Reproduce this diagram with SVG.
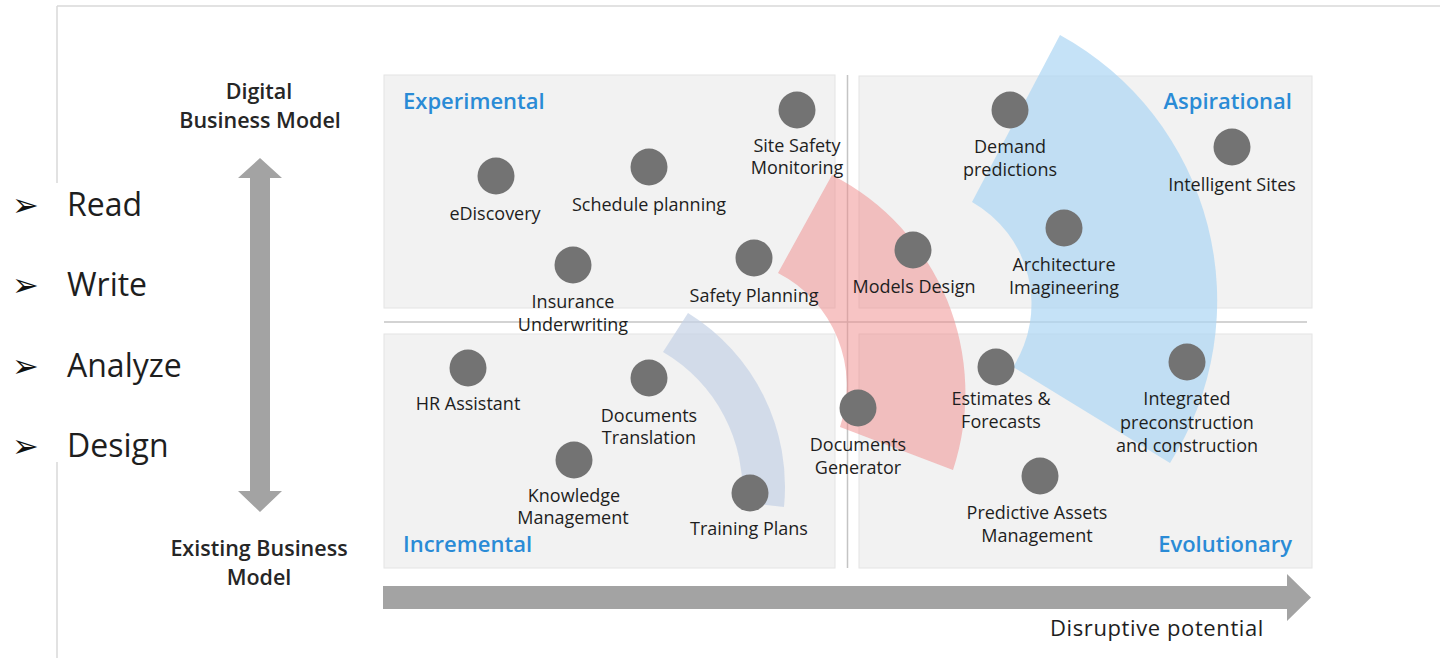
<svg xmlns="http://www.w3.org/2000/svg" width="1440" height="658" viewBox="0 0 1440 658">
<defs>
<style>
.quad{fill:#f2f2f2;stroke:#e4e4e4;stroke-width:1}
.div{stroke:#c4c4c4;stroke-width:1.5;fill:none}
.frame{stroke:#d9d9d9;stroke-width:1.5;fill:none}
.dot{fill:#737373}
.lbl{font-family:"Open Sans","Noto Sans","DejaVu Sans",sans-serif;font-size:18px;fill:#1e1e1e;text-anchor:middle}
.qt{font-family:"Open Sans","Noto Sans",sans-serif;font-size:22px;font-weight:600;fill:#2a8bd6}
.ax{font-family:"Open Sans","Noto Sans",sans-serif;font-size:21.5px;font-weight:600;fill:#262626;text-anchor:middle}
.bul{font-family:"Open Sans","Noto Sans",sans-serif;font-size:32px;fill:#1e1e1e}
.bsym{font-family:"DejaVu Sans",sans-serif;font-size:32px;fill:#111}
.arrow{fill:#a3a3a3}
</style>
</defs>
<rect width="1440" height="658" fill="#ffffff"/>
<g id="frame">
<line class="frame" x1="57" y1="6" x2="1440" y2="6"/>
<line class="frame" x1="57" y1="6" x2="57" y2="183"/>
<line class="frame" x1="57" y1="462" x2="57" y2="658"/>
</g>
<g id="quadrants">
<rect class="quad" x="384" y="75" width="451" height="233"/>
<rect class="quad" x="859" y="76" width="453" height="232"/>
<rect class="quad" x="384" y="334" width="451" height="234"/>
<rect class="quad" x="859" y="334" width="453" height="234"/>
<line class="div" x1="384" y1="322" x2="1307" y2="322"/>
<line class="div" x1="847.5" y1="75" x2="847.5" y2="568"/>
</g>
<g id="arcs">
<path d="M 663 352 L 688 313 A 204 204 0 0 1 784 507 L 742 502 A 160 160 0 0 0 663 352 Z" fill="#c4d2e6" fill-opacity="0.7"/>
<path d="M 778 273 L 832 175 A 245 245 0 0 1 953 470 L 840 427 A 127 127 0 0 0 778 273 Z" fill="#f08a8a" fill-opacity="0.5"/>
<path d="M 972 202 L 1060 35 A 303 303 0 0 1 1170 463 L 1013 367 A 117 117 0 0 0 972 202 Z" fill="#acd5f4" fill-opacity="0.7"/>
</g>
<g id="quadrant-titles">
<text class="qt" x="403" y="109">Experimental</text>
<text class="qt" x="1292" y="109" text-anchor="end">Aspirational</text>
<text class="qt" x="403" y="552">Incremental</text>
<text class="qt" x="1292" y="552" text-anchor="end">Evolutionary</text>
</g>
<g id="node-site-safety"><circle class="dot" cx="797" cy="110" r="18.5"/><text class="lbl" x="797" y="152">Site Safety</text><text class="lbl" x="797" y="174">Monitoring</text></g>
<g id="node-ediscovery"><circle class="dot" cx="496" cy="176" r="18.5"/><text class="lbl" x="495" y="220">eDiscovery</text></g>
<g id="node-schedule"><circle class="dot" cx="649" cy="167" r="18.5"/><text class="lbl" x="649" y="211">Schedule planning</text></g>
<g id="node-insurance"><circle class="dot" cx="573" cy="265" r="18.5"/><text class="lbl" x="573" y="308">Insurance</text><text class="lbl" x="573" y="331">Underwriting</text></g>
<g id="node-safety-planning"><circle class="dot" cx="754" cy="258" r="18.5"/><text class="lbl" x="754" y="302">Safety Planning</text></g>
<g id="node-demand"><circle class="dot" cx="1010" cy="110" r="18.5"/><text class="lbl" x="1010" y="153">Demand</text><text class="lbl" x="1010" y="176">predictions</text></g>
<g id="node-intelligent"><circle class="dot" cx="1232" cy="147" r="18.5"/><text class="lbl" x="1232" y="191">Intelligent Sites</text></g>
<g id="node-architecture"><circle class="dot" cx="1064" cy="228" r="18.5"/><text class="lbl" x="1064" y="271">Architecture</text><text class="lbl" x="1064" y="294">Imagineering</text></g>
<g id="node-models"><circle class="dot" cx="913" cy="250" r="18.5"/><text class="lbl" x="914" y="293">Models Design</text></g>
<g id="node-hr"><circle class="dot" cx="468" cy="368" r="18.5"/><text class="lbl" x="468" y="410">HR Assistant</text></g>
<g id="node-doc-translation"><circle class="dot" cx="649" cy="378" r="18.5"/><text class="lbl" x="649" y="422">Documents</text><text class="lbl" x="649" y="444">Translation</text></g>
<g id="node-knowledge"><circle class="dot" cx="574" cy="460" r="18.5"/><text class="lbl" x="574" y="502">Knowledge</text><text class="lbl" x="573" y="524">Management</text></g>
<g id="node-training"><circle class="dot" cx="750" cy="493" r="18.5"/><text class="lbl" x="749" y="535">Training Plans</text></g>
<g id="node-doc-generator"><circle class="dot" cx="858" cy="408" r="18.5"/><text class="lbl" x="858" y="451">Documents</text><text class="lbl" x="858" y="474">Generator</text></g>
<g id="node-estimates"><circle class="dot" cx="996" cy="367" r="18.5"/><text class="lbl" x="1001" y="405">Estimates &amp;</text><text class="lbl" x="1001" y="428">Forecasts</text></g>
<g id="node-integrated"><circle class="dot" cx="1187" cy="362" r="18.5"/><text class="lbl" x="1187" y="405">Integrated</text><text class="lbl" x="1187" y="429">preconstruction</text><text class="lbl" x="1187" y="452">and construction</text></g>
<g id="node-predictive"><circle class="dot" cx="1040" cy="476" r="18.5"/><text class="lbl" x="1037" y="519">Predictive Assets</text><text class="lbl" x="1037" y="542">Management</text></g>
<g id="axes">
<polygon class="arrow" points="260,158 282,178 270,178 270,491 282,491 260,512 238,491 250,491 250,178 238,178"/>
<polygon class="arrow" points="383,586 1287,586 1287,574 1311,597.5 1287,621 1287,609 383,609"/>
<text class="ax" x="259" y="99">Digital</text>
<text class="ax" x="260" y="128">Business Model</text>
<text class="ax" x="259" y="556">Existing Business</text>
<text class="ax" x="259" y="585">Model</text>
<text x="1157" y="636" font-family="Open Sans, Noto Sans, sans-serif" font-size="22" letter-spacing="0.6" fill="#1e1e1e" text-anchor="middle">Disruptive potential</text>
</g>
<g id="bullets">
<text class="bsym" x="12" y="216">➢</text><text class="bul" x="67" y="216">Read</text>
<text class="bsym" x="12" y="296">➢</text><text class="bul" x="67" y="296">Write</text>
<text class="bsym" x="12" y="377">➢</text><text class="bul" x="67" y="377">Analyze</text>
<text class="bsym" x="12" y="457">➢</text><text class="bul" x="67" y="457">Design</text>
</g>
</svg>
